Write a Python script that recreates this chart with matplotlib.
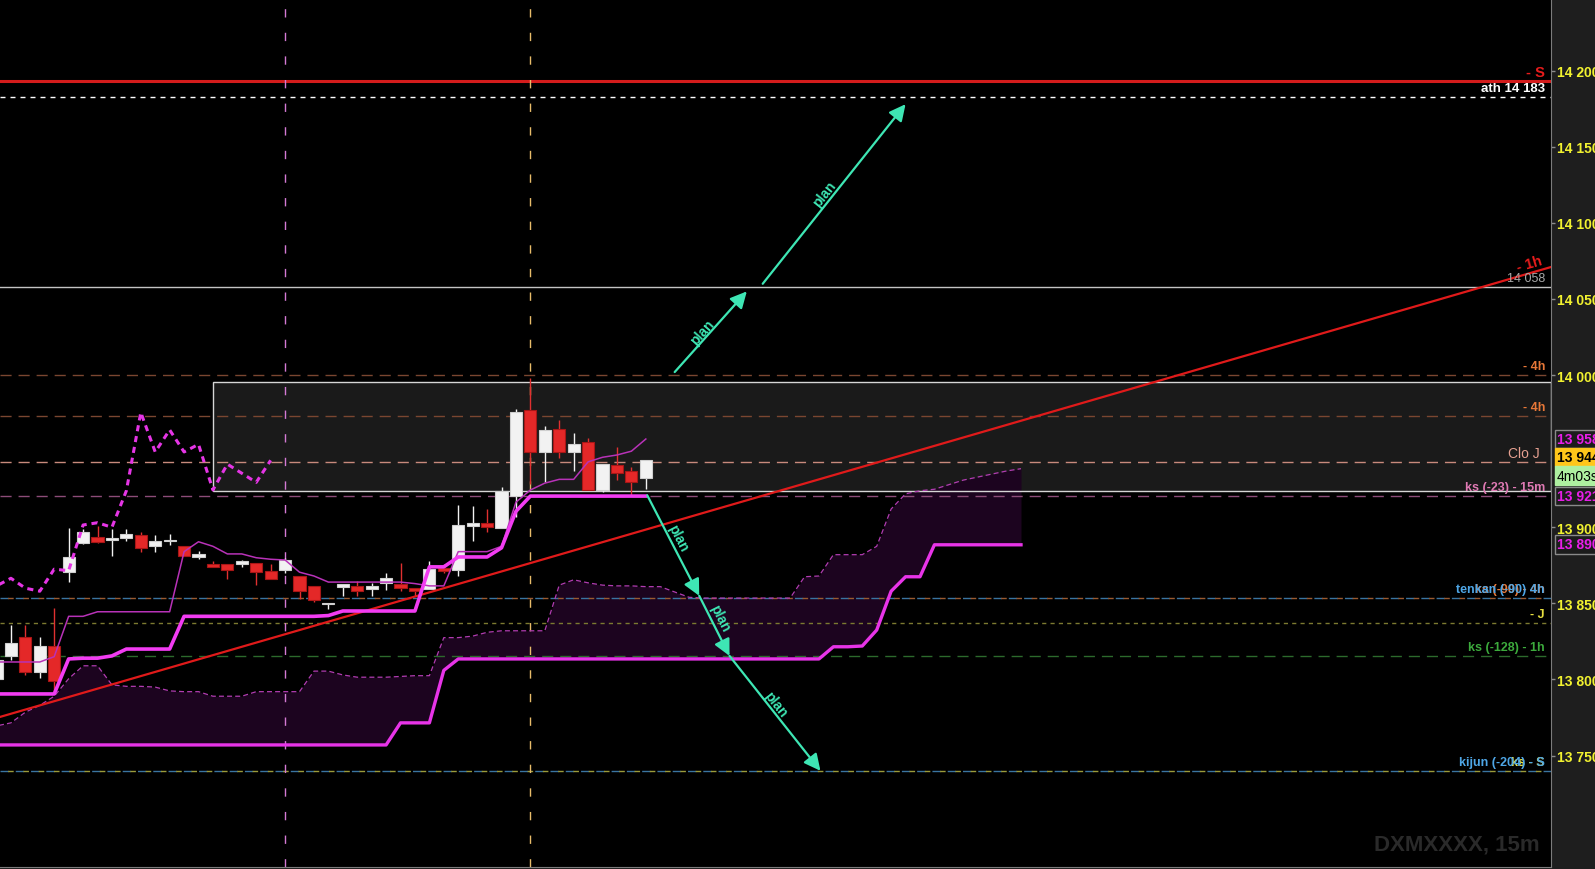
import matplotlib
matplotlib.use('Agg')
import matplotlib.pyplot as plt
import matplotlib.transforms as mtransforms
from matplotlib.patches import Rectangle
import numpy as np

plt.rcParams['font.family'] = ['Liberation Sans', 'DejaVu Sans']

# ---- 15m candles (bar index 0..45) ----
opens = [13800, 13815.5, 13828, 13805, 13822, 13870.5, 13889.5, 13893.5, 13891.5, 13893,
         13895, 13887.5, 13891, 13887.5, 13880.5, 13876, 13876, 13876, 13876.5, 13871.5,
         13872, 13868, 13861.5, 13849.5, 13861, 13861.5, 13859.5, 13863.5, 13863, 13860,
         13859.5, 13873, 13872, 13901, 13903, 13899.5, 13920.5, 13977, 13949.5, 13964.5,
         13949.5, 13956, 13924.5, 13941, 13937, 13932.5]
highs = [13818, 13836, 13836, 13828, 13847, 13899.5, 13899, 13901, 13899, 13899,
         13897, 13895, 13895.5, 13888, 13884.5, 13878, 13876, 13878.5, 13876.5, 13876,
         13879.5, 13868, 13861.5, 13850, 13863, 13864.5, 13863.5, 13870, 13876.5, 13860,
         13878, 13876, 13914.5, 13914, 13912, 13926.5, 13977.5, 13998, 13966.5, 13970.5,
         13962, 13958.5, 13941.5, 13953, 13939.5, 13944]
lows = [13796, 13813, 13803, 13801, 13792, 13864, 13889, 13890, 13881, 13891,
        13884, 13884, 13888.5, 13881, 13879, 13874, 13866, 13874, 13862, 13866,
        13870, 13853, 13851, 13846.5, 13855, 13855, 13855, 13859, 13858, 13855,
        13859.5, 13870, 13868, 13891, 13897, 13899.5, 13907, 13928.5, 13929.5, 13945.5,
        13937, 13924.5, 13923, 13931, 13921, 13925]
closes = [13813, 13824, 13805, 13822, 13799, 13880.5, 13897, 13890.5, 13893, 13895.5,
          13886.5, 13891, 13891.5, 13881, 13882.5, 13874, 13872, 13878, 13870.5, 13866,
          13878.5, 13858, 13852, 13850, 13863, 13858, 13861.5, 13866.5, 13860, 13858,
          13872.5, 13871.5, 13901.5, 13903, 13900, 13924, 13975.5, 13949.5, 13964, 13949.5,
          13954.5, 13924.5, 13941.5, 13935.5, 13929.5, 13944]

# ---- ichimoku ----
tenkan = [13811.5, 13811.5, 13811.5, 13811.5, 13815, 13841.5, 13841.5, 13844.5, 13844.5, 13844.5,
          13844.5, 13844.5, 13844.5, 13884, 13890.5, 13887.5, 13882.5, 13882.5, 13880, 13879,
          13878.5, 13870.5, 13868, 13864, 13864, 13864, 13864, 13864, 13864, 13863,
          13861.5, 13861.5, 13884, 13884, 13884, 13887.5, 13916.5, 13924.5, 13929, 13931.5,
          13931.5, 13943, 13946, 13947.5, 13950, 13958]
kijun = [13790.5, 13790.5, 13790.5, 13790.5, 13790.5, 13813.5, 13814, 13814, 13815.5, 13820,
         13820, 13820, 13820, 13841.5, 13841.5, 13841.5, 13841.5, 13841.5, 13841.5, 13841.5,
         13841.5, 13841.5, 13841.5, 13842, 13845, 13845, 13845, 13845, 13845, 13845,
         13874, 13874, 13880.5, 13880.5, 13880.5, 13886.5, 13910.5, 13920.5, 13920.5, 13920.5,
         13920.5, 13920.5, 13920.5, 13920.5, 13920.5, 13920.5]
chikou_shift = 26
# cloud, bar index 0..71 (already shifted forward)
senkou_a = [13769.5, 13771.5, 13778.5, 13783, 13789, 13800.5, 13809, 13809, 13796.5, 13795.5,
            13795.5, 13795, 13792.5, 13792, 13792, 13789, 13789, 13789, 13792, 13792,
            13792, 13792, 13805.5, 13805.5, 13803, 13801.5, 13801.5, 13801.5, 13802, 13802.5,
            13802.5, 13827.5, 13827.5, 13828.5, 13831, 13832, 13832, 13832, 13832, 13862,
            13865.5, 13863.5, 13862, 13861.5, 13861.5, 13861, 13861, 13857.5, 13854, 13853.5,
            13853.5, 13853.5, 13853.5, 13853.5, 13853.5, 13853.5, 13867.5, 13868, 13882, 13882,
            13882, 13887.5, 13912, 13922, 13924, 13925, 13928, 13931, 13933, 13935,
            13937, 13938.5]
senkou_b = [13757] * 28 + [13771.5] * 3 + [13806] + [13813.5] * 26 + \
           [13821.5, 13821.5, 13822, 13832.5, 13858, 13867.5, 13867.5] + [13888.5] * 7

# ---- drawings ----
trend_x = [0.243, 107.73]
trend_y = [13775.4, 14071.0]
box_x = [15.0, 107.73]
box_y = [13924.0, 13995.3]
vline_bars = [20, 37]
plan_start = [(47.0, 14002), (53.1, 14060), (45.1, 13921), (48.7, 13855), (50.8, 13815.5)]
plan_end = [(52.0, 14055), (63.0, 14178), (48.7, 13855), (50.8, 13815.5), (57.1, 13740)]
plan_text = [(48.9, 14028.5), (57.4, 14119), (47.25, 13893.4), (50.15, 13841), (54.0, 13784)]

level_prices = [14193, 14183, 14058, 14000, 13973.3, 13943, 13920.5, 13853.3, 13837, 13815.2, 13740]
level_labels = ['- S', 'ath 14 183', '14 058', '- 4h', '- 4h', 'Clo J', 'ks (-23) - 15m',
                'tenkan (-90) 4h', '- J', 'ks (-128) - 1h', 'kijun (-204) - S']
level_colors = ['#d41c1c', 'white', '#c4c4c4', '#7a4630', '#7a4630', '#c88a7c', '#8c4c78',
                '#3a74a0', '#7c7a30', '#2c6a2c', '#3a74a0']
label_colors = ['#e81c1c', 'white', '#a8a8a8', '#e87838', '#e87838', '#e6a090', '#e07ab4',
                '#4ea6e6', '#e8e040', '#3caa3c', '#4ea6e6']

yticks = [13750, 13800, 13850, 13900, 14000, 14050, 14100, 14150, 14200]
ytick_labels = ['%d %03d' % (t // 1000, t % 1000) for t in yticks]

tag_prices = [13958, 13946.2, 13934, 13920.6, 13888.7]
tag_texts = ['13 958', '13 944', '4m03s', '13 921', '13 890']

W, H = 1595, 870
fig = plt.figure(figsize=(W / 100, H / 100), dpi=100, facecolor='#1e1e1e')
ax = fig.add_axes([0, 2 / H, 1551 / W, 868 / H])
ax.set_facecolor('black')
ax.set_xlim(0.243, 107.73)
ax.set_ylim(13676.8, 14247.1)
trans = mtransforms.blended_transform_factory(ax.transAxes, ax.transData)

# grey zone box
ax.add_patch(Rectangle((box_x[0], box_y[0]), box_x[1] - box_x[0], box_y[1] - box_y[0],
                       facecolor='#1a1a1a', edgecolor='none', zorder=0.5))
ax.add_patch(Rectangle((box_x[0], box_y[0]), box_x[1] - box_x[0], box_y[1] - box_y[0],
                       facecolor='none', edgecolor='#d6d6d6', lw=1, zorder=2.5))

# watermark
ax.text(0.9929, 0.0265, 'DXMXXXX, 15m', transform=ax.transAxes, ha='right', va='center',
        fontsize=16, fontweight='bold', color='#2a2a2a', zorder=0.4)

# cloud
xc = np.arange(len(senkou_a))
ax.fill_between(xc, senkou_a, senkou_b, color='#1c041f', lw=0, zorder=1)
ax.plot(xc, senkou_a, color='#b23cb2', lw=0.9, dashes=(4, 2.5), zorder=3)
ax.plot(xc, senkou_b, color='#e834e8', lw=2.4, zorder=3)

# horizontal levels
for k, (p, col) in enumerate(zip(level_prices, level_colors)):
    if k == 0:
        ax.axhline(p, color=col, lw=2.2, zorder=2)
    elif k == 1:
        ax.axhline(p, color=col, lw=1, dashes=(3.6, 3.6), zorder=2)
    elif k == 2:
        ax.axhline(p, color=col, lw=1, zorder=2)
    elif k in (7, 10):
        ax.axhline(p, color=col, lw=1, dashes=(6, 5), zorder=2)
        other = '#9a5a30' if k == 7 else '#9a9a3a'
        ax.axhline(p, color=other, lw=1, linestyle=(5.5, (4, 7)), zorder=2)
    elif k == 8:
        ax.axhline(p, color=col, lw=1, dashes=(3, 3), zorder=2)
    else:
        ax.axhline(p, color=col, lw=1, dashes=(8, 5), zorder=2)

# overlapping labels drawn underneath
ax.annotate('ks (-90) - 4h', xy=(0.9961, level_prices[7]), xycoords=trans, xytext=(0, 6.5),
            textcoords='offset points', ha='right', va='center', color='#e87838',
            fontsize=9, fontweight='bold', zorder=8)
ax.annotate('ks - S', xy=(0.9961, level_prices[10]), xycoords=trans, xytext=(0, 6.5),
            textcoords='offset points', ha='right', va='center', color='#e8e040',
            fontsize=9, fontweight='bold', zorder=8)

for k, (p, txt, col) in enumerate(zip(level_prices, level_labels, label_colors)):
    size, weight, xa = 9, 'bold', 0.9961
    if k == 0:
        size = 10.5
    elif k == 1:
        size = 9.5
    elif k == 2:
        weight = 'normal'
    elif k == 5:
        size, weight, xa = 10, 'normal', 0.9929
    ax.annotate(txt, xy=(xa, p), xycoords=trans, xytext=(0, 6.5), textcoords='offset points',
                ha='right', va='center', color=col, fontsize=size, fontweight=weight, zorder=9)

# vertical session lines
ax.axvline(vline_bars[0], color='#d47ad4', lw=1, dashes=(6, 11), zorder=2)
ax.axvline(vline_bars[1], color='#e8bc6a', lw=1, dashes=(6, 11), zorder=2)

# trendline
ax.plot(trend_x, trend_y, color='#e01a1a', lw=1.6, zorder=6)
lx = 106.4
ly = np.interp(lx, trend_x, trend_y)
p0 = ax.transData.transform((trend_x[0], trend_y[0]))
p1 = ax.transData.transform((trend_x[1], trend_y[1]))
ang = np.degrees(np.arctan2(p1[1] - p0[1], p1[0] - p0[0]))
ax.annotate('- 1h', xy=(lx, ly), xytext=(-2, 6.5), textcoords='offset points', ha='center',
            va='center', rotation=ang, rotation_mode='anchor', color='#e81c1c',
            fontsize=10.5, fontweight='bold', zorder=9)

# candles
o = np.array(opens); h = np.array(highs); l = np.array(lows); c = np.array(closes)
x = np.arange(len(c))
up = c >= o
ax.vlines(x, l, h, colors=np.where(up, '#f2f2f2', '#e03030'), lw=1, zorder=4)
ax.bar(x, np.maximum(np.abs(c - o), 0.9), bottom=np.minimum(o, c), width=0.84,
       color=np.where(up, '#f2f2f2', '#e42828'), edgecolor=np.where(up, '#cfcfcf', '#a81616'),
       lw=0.8, zorder=5)

# tenkan / kijun / chikou
ax.plot(x, tenkan, color='#b832b8', lw=1.1, zorder=6)
ax.plot(x, kijun, color='#f23cf2', lw=2.6, zorder=6)
ax.plot(x[:len(c) - chikou_shift], c[chikou_shift:], color='#e535e5', lw=2.2,
        dashes=(2.0, 1.6), zorder=6)

# plan arrows
for (xs, ys), (xe, ye), (tx, ty) in zip(plan_start, plan_end, plan_text):
    ax.annotate('', xy=(xe, ye), xytext=(xs, ys),
                arrowprops=dict(arrowstyle='-|>,head_length=0.9,head_width=0.45',
                                color='#3ee6b4', lw=1.6, mutation_scale=11,
                                shrinkA=0, shrinkB=0), zorder=7)
    a0 = ax.transData.transform((xs, ys))
    a1 = ax.transData.transform((xe, ye))
    ang = np.degrees(np.arctan2(a1[1] - a0[1], a1[0] - a0[0]))
    ax.text(tx, ty, 'plan', rotation=ang, rotation_mode='anchor', ha='center', va='center',
            color='#3ee6b4', fontsize=10, fontweight='bold', zorder=7)

# right price axis
ax.yaxis.tick_right()
ax.set_yticks(yticks)
ax.set_yticklabels(ytick_labels)
ax.set_xticks([])
ax.tick_params(axis='y', colors='#8c8c8c', labelcolor='#f2f230', length=3, width=1,
               pad=1.5, labelsize=10)
for t in ax.get_yticklabels():
    t.set_fontweight('bold')
for s in ('top', 'left'):
    ax.spines[s].set_visible(False)
for s in ('right', 'bottom'):
    ax.spines[s].set_color('#7c7c7c')

tag_styles = [('#e81ee8', '#1c1c1c', '#8a8a8a', 'bold'),
              ('black', '#ffc61a', '#ffc61a', 'bold'),
              ('black', '#aef0a0', '#aef0a0', 'normal'),
              ('#e81ee8', '#1c1c1c', '#8a8a8a', 'bold'),
              ('#e81ee8', '#1c1c1c', '#8a8a8a', 'bold')]
for p, txt, (fg, bg, ec, wt) in zip(tag_prices, tag_texts, tag_styles):
    ax.text(1.0039, p, txt, transform=trans, clip_on=False, ha='left', va='center',
            color=fg, fontsize=10, fontweight=wt, zorder=10,
            bbox=dict(boxstyle='square,pad=0.15', fc=bg, ec=ec, lw=1))

fig.savefig('out.png', dpi=100, facecolor=fig.get_facecolor())
